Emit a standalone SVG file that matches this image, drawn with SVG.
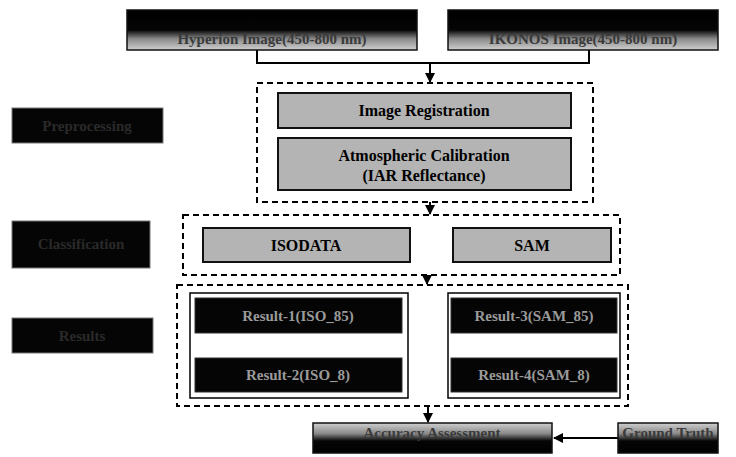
<svg xmlns="http://www.w3.org/2000/svg" width="736" height="457" viewBox="0 0 736 457">
<style>
.dash{fill:none;stroke:#000;stroke-width:2;stroke-dasharray:6 4}
.gray{fill:#b4b4b4;stroke:#111;stroke-width:2}
.dark{fill:url(#dg);stroke:#111;stroke-width:1.5}
.blk{fill:#050505;stroke:#777;stroke-width:1}
.bar{fill:#050505;stroke:#333;stroke-width:1}
.t{font-family:"Liberation Serif",serif;font-weight:bold;font-size:16px;fill:#000;text-anchor:middle}
.tl{font-family:"Liberation Serif",serif;font-weight:bold;font-size:15px;fill:#9a9a9a;text-anchor:middle}
.td{font-family:"Liberation Serif",serif;font-weight:bold;font-size:15px;fill:#3a3a3a;text-anchor:middle}
.tb{font-family:"Liberation Serif",serif;font-weight:bold;font-size:15px;fill:#2a2a2a;text-anchor:middle}
.ln{fill:none;stroke:#000;stroke-width:2}
</style>
<defs>
<linearGradient id="dg" x1="0" y1="0" x2="0" y2="1">
<stop offset="0" stop-color="#000"/>
<stop offset="0.5" stop-color="#050505"/>
<stop offset="0.72" stop-color="#8a8a8a"/>
<stop offset="1" stop-color="#cfcfcf"/>
</linearGradient>
<linearGradient id="dg2" x1="0" y1="0" x2="0" y2="1">
<stop offset="0" stop-color="#cfcfcf"/>
<stop offset="0.35" stop-color="#8a8a8a"/>
<stop offset="0.6" stop-color="#050505"/>
<stop offset="1" stop-color="#000"/>
</linearGradient>
<marker id="ah" viewBox="0 0 10 10" refX="9" refY="5" markerWidth="5" markerHeight="5" orient="auto">
<path d="M0,0 L10,5 L0,10 z" fill="#000"/>
</marker>
</defs>
<rect width="736" height="457" fill="#fff"/>
<g id="connectors">
<path class="ln" d="M257,50 V63 H589 V50"/>
<path class="ln" d="M430,63 V82" marker-end="url(#ah)"/>
<path class="ln" d="M430,202 V214" marker-end="url(#ah)"/>
<path class="ln" d="M427,275 V284" marker-end="url(#ah)"/>
<path class="ln" d="M428,406 V422" marker-end="url(#ah)"/>
<path class="ln" d="M618,438 H554" marker-end="url(#ah)"/>
</g>
<g id="hyperion">
<rect class="dark" x="127" y="10" width="290" height="40"/>
<text class="td" x="272" y="44">Hyperion Image(450-800 nm)</text>
</g>
<g id="ikonos">
<rect class="dark" x="448" y="10" width="270" height="40"/>
<text class="td" x="583" y="44">IKONOS Image(450-800 nm)</text>
</g>
<g id="label-preprocessing">
<rect class="blk" x="12" y="108" width="151" height="35"/>
<text class="tb" x="87" y="131">Preprocessing</text>
</g>
<g id="label-classification">
<rect class="blk" x="12" y="221" width="138" height="47"/>
<text class="tb" x="81" y="249">Classification</text>
</g>
<g id="label-results">
<rect class="blk" x="12" y="318" width="141" height="35"/>
<text class="tb" x="82" y="341">Results</text>
</g>
<g id="preprocessing">
<rect class="dash" x="257" y="83" width="336" height="119"/>
</g>
<g id="registration">
<rect class="gray" x="278" y="93" width="293" height="35"/>
<text class="t" x="424" y="116">Image Registration</text>
</g>
<g id="calibration">
<rect class="gray" x="278" y="138" width="293" height="52"/>
<text class="t" x="424" y="161">Atmospheric Calibration</text>
<text class="t" x="424" y="181">(IAR Reflectance)</text>
</g>
<g id="classification">
<rect class="dash" x="183" y="215" width="437" height="60"/>
</g>
<g id="isodata">
<rect class="gray" x="203" y="228" width="207" height="34"/>
<text class="t" x="306" y="251">ISODATA</text>
</g>
<g id="sam">
<rect class="gray" x="453" y="228" width="158" height="34"/>
<text class="t" x="532" y="251">SAM</text>
</g>
<g id="results">
<rect class="dash" x="177" y="285" width="451" height="121"/>
<rect fill="none" stroke="#000" stroke-width="1.5" x="190" y="293" width="218" height="105"/>
<rect fill="none" stroke="#000" stroke-width="1.5" x="448" y="293" width="172" height="105"/>
</g>
<g id="result1">
<rect class="bar" x="195" y="298" width="207" height="35"/>
<text class="tl" x="298" y="321">Result-1(ISO_85)</text>
</g>
<g id="result2">
<rect class="bar" x="195" y="358" width="207" height="34"/>
<text class="tl" x="298" y="380">Result-2(ISO_8)</text>
</g>
<g id="result3">
<rect class="bar" x="451" y="298" width="166" height="35"/>
<text class="tl" x="534" y="321">Result-3(SAM_85)</text>
</g>
<g id="result4">
<rect class="bar" x="451" y="358" width="166" height="34"/>
<text class="tl" x="534" y="380">Result-4(SAM_8)</text>
</g>
<g id="accuracy">
<rect x="313" y="423" width="239" height="30" fill="url(#dg2)" stroke="#111" stroke-width="1.5"/>
<text class="td" x="432" y="438">Accuracy Assessment</text>
</g>
<g id="ground-truth">
<rect x="618" y="423" width="100" height="30" fill="url(#dg2)" stroke="#111" stroke-width="1.5"/>
<text class="td" x="668" y="438">Ground Truth</text>
</g>
</svg>
